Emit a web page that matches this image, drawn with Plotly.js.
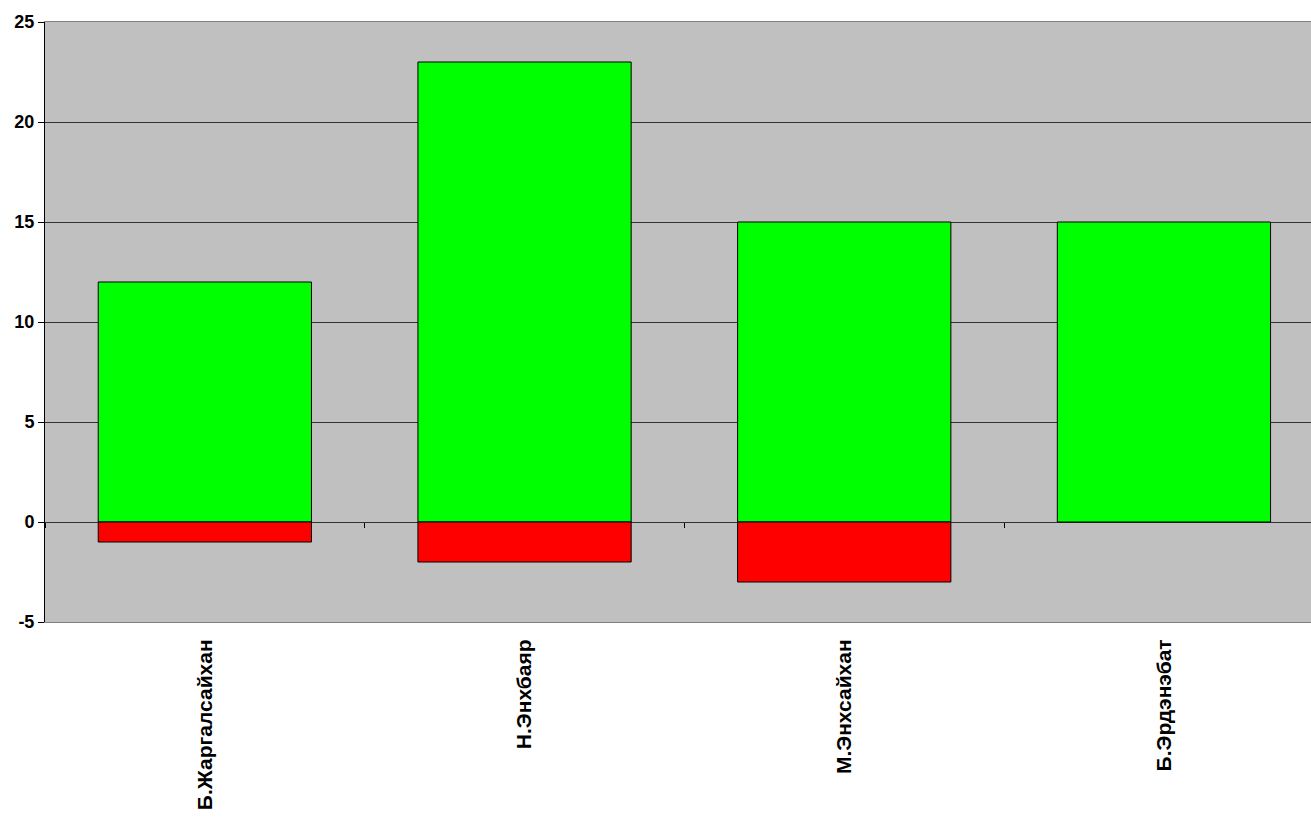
<!DOCTYPE html>
<html>
<head>
<meta charset="utf-8">
<script src="https://cdn.plot.ly/plotly-3.0.1.min.js"></script>
<style>html,body{margin:0;padding:0;background:#fff;}#chart{width:1311px;height:821px;}</style>
</head>
<body>
<div id="chart"></div>
<script>
const categories = ["Б.Жаргалсайхан", "Н.Энхбаяр", "М.Энхсайхан", "Б.Эрдэнэбат"];
const positiveValues = [12, 23, 15, 15];
const negativeValues = [-1, -2, -3, null];
const yTickValues = [-5, 0, 5, 10, 15, 20, 25];

const yFont = {family: "Arial, 'Liberation Sans', sans-serif", size: 18, color: "#000", weight: "bold"};
const xFont = {family: "Arial, 'Liberation Sans', sans-serif", size: 21, color: "#000", weight: "bold"};

const traces = [
  {type: "bar", x: categories, y: positiveValues, width: 0.667,
   marker: {color: "#00FF00", line: {color: "#000", width: 1}}, hoverinfo: "skip"},
  {type: "bar", x: categories, y: negativeValues, width: 0.667,
   marker: {color: "#FF0000", line: {color: "#000", width: 1}}, hoverinfo: "skip"},
  {type: "scatter", mode: "markers", x: categories, y: [0, 0, 0, 0], xaxis: "x2",
   marker: {opacity: 0}, hoverinfo: "skip", showlegend: false}
];

const layout = {
  width: 1311, height: 821,
  margin: {l: 45, r: 0, t: 22, b: 199},
  paper_bgcolor: "#fff",
  plot_bgcolor: "#C0C0C0",
  barmode: "relative",
  showlegend: false,
  font: yFont,
  xaxis: {
    type: "category", range: [-0.5, 3.46],
    ticks: "", tickangle: -90, tickfont: xFont, ticklabelstandoff: 8,
    showgrid: false, zeroline: false,
    showline: true, linecolor: "#808080", linewidth: 1, mirror: true,
    fixedrange: true
  },
  xaxis2: {
    type: "category", overlaying: "x", anchor: "free", position: 5/30,
    range: [-0.5, 3.46], tickson: "boundaries",
    ticks: "outside", ticklen: 5, tickcolor: "#000", tickwidth: 1,
    showticklabels: false, showgrid: false, showline: false, zeroline: false
  },
  yaxis: {
    range: [-5, 25], tickvals: yTickValues, ticktext: yTickValues.map(String),
    ticks: "outside", ticklen: 6, tickcolor: "#000", tickfont: yFont,
    showline: true, linecolor: "#000", linewidth: 1,
    showgrid: true, gridcolor: "#333", gridwidth: 1,
    zeroline: true, zerolinecolor: "#333", zerolinewidth: 1,
    fixedrange: true
  }
};

Plotly.newPlot("chart", traces, layout, {displayModeBar: false, staticPlot: true});
</script>
</body>
</html>
